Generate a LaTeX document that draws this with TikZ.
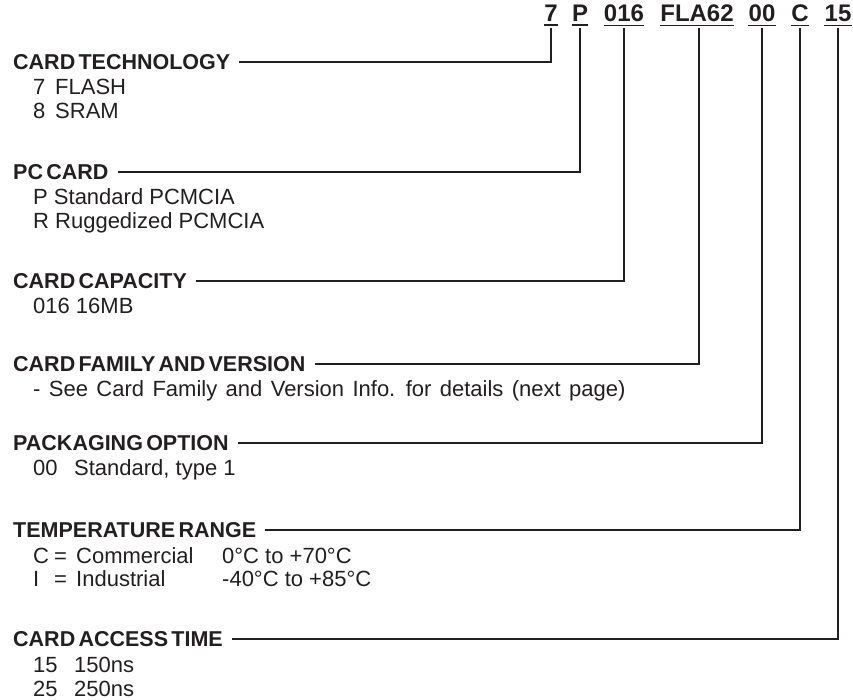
\documentclass[tikz,border=0pt]{standalone}
\usepackage{fontspec}
\setmainfont{Liberation Sans}
\newfontfamily\headfont[WordSpace=0.55]{Liberation Sans}
\definecolor{ink}{HTML}{231F20}
\begin{document}
\begin{tikzpicture}[x=1pt,y=-1pt,
  code/.style={font=\fontsize{24}{28}\selectfont\bfseries, text=ink, anchor=base, inner sep=0pt},
  head/.style={font=\headfont\fontsize{21.5}{26}\selectfont\bfseries, text=ink, anchor=base west, inner sep=0pt},
  item/.style={font=\fontsize{22}{26}\selectfont, text=ink, anchor=base west, inner sep=0pt},
  leader/.style={line width=1.4pt, draw=ink},
  uline/.style={line width=1.6pt, draw=ink}]
\useasboundingbox (0,0) rectangle (853,700);

% part number fields
\node[code] (c7)  at (551,22) {7};
\node[code] (cP)  at (580,22) {P};
\node[code] (c16) at (624,22) {016};
\node[code] (cF)  at (697,22) {FLA62};
\node[code] (c00) at (762,22) {00};
\node[code] (cC)  at (800,22) {C};
\node[code] (c15) at (838,22) {15};
\foreach \n in {c7,cP,c16,cF,c00,cC,c15}
  \draw[uline] ([yshift=-3pt]\n.south west) -- ([yshift=-3pt]\n.south east);

% tops of the drop lines, just under each field
\coordinate (d7)  at ([yshift=-6pt]c7.south);
\coordinate (dP)  at ([yshift=-6pt]cP.south);
\coordinate (d16) at ([yshift=-6pt]c16.south);
\coordinate (dF)  at ([xshift=2pt,yshift=-6pt]cF.south);
\coordinate (d00) at ([yshift=-6pt]c00.south);
\coordinate (dC)  at ([yshift=-6pt]cC.south);
\coordinate (d15) at ([yshift=-6pt]c15.south);

% field headings
\node[head] (h1) at (13,69.5)  {CARD TECHNOLOGY};
\node[head] (h2) at (13,179.5) {PC CARD};
\node[head] (h3) at (13,288.5) {CARD CAPACITY};
\node[head] (h4) at (13,371.5) {CARD FAMILY AND VERSION};
\node[head] (h5) at (13,450.5) {PACKAGING OPTION};
\node[head] (h6) at (13,537.5) {TEMPERATURE RANGE};
\node[head] (h7) at (13,646.5) {CARD ACCESS TIME};

% leaders from each heading up to its field
\draw[leader] ([shift={(9pt,7.5pt)}]h1.base east) -| (d7);
\draw[leader] ([shift={(9pt,7.5pt)}]h2.base east) -| (dP);
\draw[leader] ([shift={(9pt,7.5pt)}]h3.base east) -| (d16);
\draw[leader] ([shift={(9pt,7.5pt)}]h4.base east) -| (dF);
\draw[leader] ([shift={(9pt,7.5pt)}]h5.base east) -| (d00);
\draw[leader] ([shift={(9pt,7.5pt)}]h6.base east) -| (dC);
\draw[leader] ([shift={(9pt,7.5pt)}]h7.base east) -| (d15);

% options
\node[item] (o1ak) at (33,94.5)  {7};
\node[item] (o1av) at (55,94.5)  {FLASH};
\node[item] (o1bk) at (33,118.5) {8};
\node[item] (o1bv) at (55,118.5) {SRAM};
\node[item] (o2a) at (33,204.5) {P Standard PCMCIA};
\node[item] (o2b) at (33,228.5) {R Ruggedized PCMCIA};
\node[item] (o3a) at (33,313.5) {016 16MB};
\node[item] (o4a) at (33,396.5) {\spaceskip=8.4pt - See Card Family and Version Info. for details (next page)};
\node[item] (o5k) at (33,475.5) {00};
\node[item] (o5v) at (74,475.5) {Standard, type 1};
\node[item] (o6ak) at (33,563.5) {C};
\node[item] (o6ae) at (54,563.5) {=};
\node[item] (o6an) at (76,563.5) {Commercial};
\node[item] (o6ar) at (222,563.5) {0°C to +70°C};
\node[item] (o6bk) at (33,586.5) {I};
\node[item] (o6be) at (54,586.5) {=};
\node[item] (o6bn) at (76,586.5) {Industrial};
\node[item] (o6br) at (222,586.5) {-40°C to +85°C};
\node[item] (o7ak) at (33,672) {15};
\node[item] (o7av) at (74,672) {150ns};
\node[item] (o7bk) at (33,696) {25};
\node[item] (o7bv) at (74,696) {250ns};
\end{tikzpicture}
\end{document}
